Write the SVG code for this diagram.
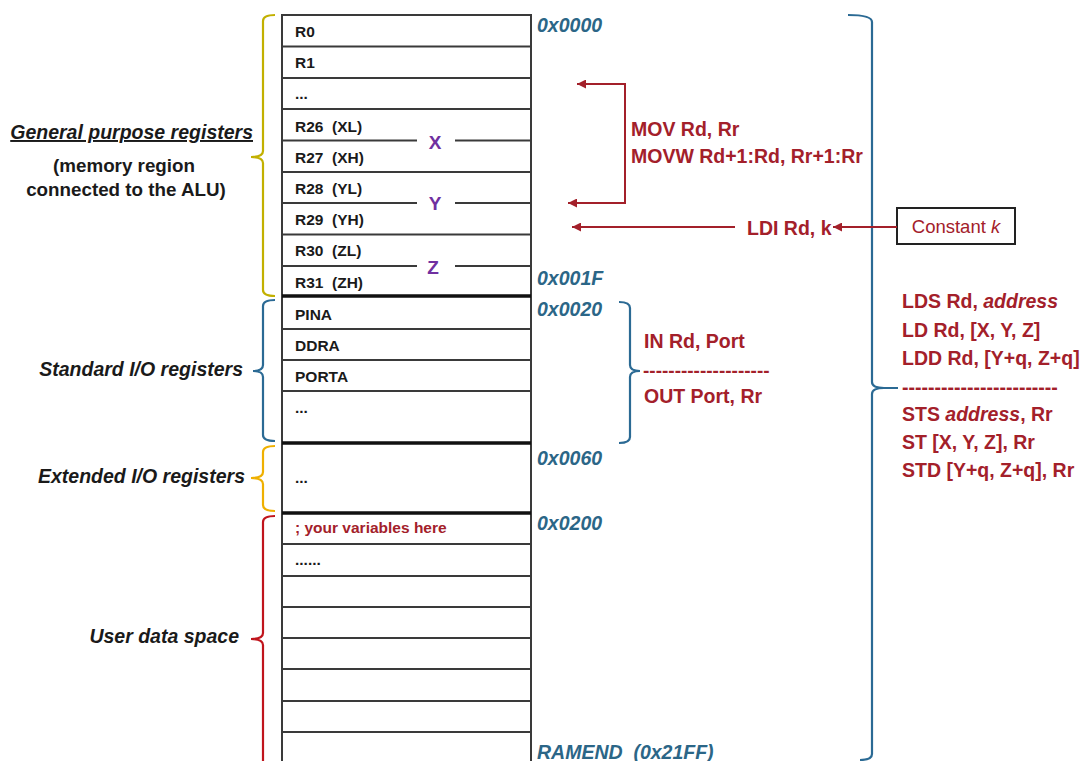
<svg xmlns="http://www.w3.org/2000/svg" width="1083" height="761" viewBox="0 0 1083 761">
<style>
text{font-family:"Liberation Sans",Arial,sans-serif;white-space:pre}
.reg{font-size:15.5px;font-weight:bold;fill:#1a1a1a}
.sec{font-size:19.5px;font-weight:bold;font-style:italic;fill:#1a1a1a}
.sub{font-size:18.8px;font-weight:bold;fill:#1a1a1a}
.addr{font-size:19.5px;font-weight:bold;font-style:italic;fill:#2b6687}
.ins{font-size:19.5px;font-weight:bold;fill:#a3202a}
.ptr{font-size:19px;font-weight:bold;fill:#7030a0}
.row{stroke:#3a3a3a;stroke-width:2;fill:none}
.thick{stroke:#111;stroke-width:3.5;fill:none}
.brace{fill:none;stroke-width:2.2;stroke-linejoin:round}
.conn{fill:none;stroke:#a3202a;stroke-width:2}
</style>
<defs>
<marker id="ah" viewBox="0 0 10 10" refX="10" refY="5" markerWidth="11" markerHeight="9" markerUnits="userSpaceOnUse" orient="auto-start-reverse">
<path d="M0,0 L10,5 L0,10 z" fill="#a3202a"/>
</marker>
</defs>
<rect width="1083" height="761" fill="#fff"/>

<g id="memory">
<line class="row" x1="282" y1="14" x2="282" y2="761"/>
<line class="row" x1="531" y1="14" x2="531" y2="761"/>
<line class="row" x1="281" y1="15" x2="532" y2="15"/>
<line class="row" x1="282" y1="46.5" x2="531" y2="46.5"/>
<line class="row" x1="282" y1="78" x2="531" y2="78"/>
<line class="row" x1="282" y1="109" x2="531" y2="109"/>
<line class="row" x1="282" y1="140.5" x2="417" y2="140.5"/>
<line class="row" x1="455" y1="140.5" x2="531" y2="140.5"/>
<line class="row" x1="282" y1="172" x2="531" y2="172"/>
<line class="row" x1="282" y1="203" x2="417" y2="203"/>
<line class="row" x1="455" y1="203" x2="531" y2="203"/>
<line class="row" x1="282" y1="234.5" x2="531" y2="234.5"/>
<line class="row" x1="282" y1="266" x2="417" y2="266"/>
<line class="row" x1="455" y1="266" x2="531" y2="266"/>
<line class="thick" x1="282" y1="296" x2="531" y2="296"/>
<line class="row" x1="282" y1="329" x2="531" y2="329"/>
<line class="row" x1="282" y1="360" x2="531" y2="360"/>
<line class="row" x1="282" y1="391" x2="531" y2="391"/>
<line class="thick" x1="282" y1="443" x2="531" y2="443"/>
<line class="thick" x1="282" y1="513" x2="531" y2="513"/>
<line class="row" x1="282" y1="544" x2="531" y2="544"/>
<line class="row" x1="282" y1="576" x2="531" y2="576"/>
<line class="row" x1="282" y1="607" x2="531" y2="607"/>
<line class="row" x1="282" y1="638" x2="531" y2="638"/>
<line class="row" x1="282" y1="669" x2="531" y2="669"/>
<line class="row" x1="282" y1="701" x2="531" y2="701"/>
<line class="row" x1="282" y1="732" x2="531" y2="732"/>
<text class="reg" x="295" y="37">R0</text>
<text class="reg" x="295" y="68">R1</text>
<text class="reg" x="295" y="99">...</text>
<text class="reg" x="295" y="132">R26  (XL)</text>
<text class="reg" x="295" y="163">R27  (XH)</text>
<text class="reg" x="295" y="194">R28  (YL)</text>
<text class="reg" x="295" y="225">R29  (YH)</text>
<text class="reg" x="295" y="256">R30  (ZL)</text>
<text class="reg" x="295" y="288">R31  (ZH)</text>
<text class="reg" x="295" y="320">PINA</text>
<text class="reg" x="295" y="351">DDRA</text>
<text class="reg" x="295" y="382">PORTA</text>
<text class="reg" x="295" y="413">...</text>
<text class="reg" x="295" y="483">...</text>
<text class="reg" x="295" y="533" style="fill:#a3202a">; your variables here</text>
<text class="reg" x="295" y="565">......</text>
<text class="ptr" x="435" y="149" text-anchor="middle">X</text>
<text class="ptr" x="435" y="210" text-anchor="middle">Y</text>
<text class="ptr" x="433" y="274" text-anchor="middle">Z</text>
</g>

<g id="addresses">
<text class="addr" x="537" y="32">0x0000</text>
<text class="addr" x="537" y="285">0x001F</text>
<text class="addr" x="537" y="316">0x0020</text>
<text class="addr" x="537" y="465">0x0060</text>
<text class="addr" x="537" y="530">0x0200</text>
<text class="addr" x="537" y="759">RAMEND  (0x21FF)</text>
</g>

<g id="gp-registers">
<path class="brace" stroke="#c2b000" d="M275,15 Q263,15 263,21 V151 Q263,157 251,157 M263,163 Q263,157 251,157 M263,163 V290 Q263,296 275,296"/>
<text class="sec" x="253" y="139" text-anchor="end" text-decoration="underline">General purpose registers</text>
<text class="sub" x="124" y="172" text-anchor="middle">(memory region</text>
<text class="sub" x="126" y="196" text-anchor="middle">connected to the ALU)</text>
</g>

<g id="std-io">
<path class="brace" stroke="#2b6a94" d="M275,300 Q263,300 263,306 V365 Q263,371 253,371 M263,377 Q263,371 253,371 M263,377 V435 Q263,441 275,441"/>
<text class="sec" x="243" y="376" text-anchor="end">Standard I/O registers</text>
</g>

<g id="ext-io">
<path class="brace" stroke="#efb000" d="M275,446 Q263,446 263,452 V472 Q263,478 251,478 M263,484 Q263,478 251,478 M263,484 V505 Q263,511 275,511"/>
<text class="sec" x="245" y="483" text-anchor="end">Extended I/O registers</text>
</g>

<g id="user-data">
<path class="brace" stroke="#c0141c" d="M275,516 Q263,516 263,522 V633 Q263,639 251,639 M263,645 Q263,639 251,639 M263,645 V761"/>
<text class="sec" x="239" y="643" text-anchor="end">User data space</text>
</g>

<g id="io-instructions">
<path class="brace" stroke="#2b6a94" d="M619,302 Q630,302 630,308 V365 Q630,371 640,371 M630,377 Q630,371 640,371 M630,377 V437 Q630,443 619,443"/>
<text class="ins" x="644" y="348">IN Rd, Port</text>
<text class="ins" x="643" y="377" style="font-size:19px">--------------------</text>
<text class="ins" x="644" y="403">OUT Port, Rr</text>
</g>

<g id="data-instructions">
<path class="brace" stroke="#2b6a94" d="M848,15 Q872,15 872,22 V382 Q872,388 884,388 H898 M884,388 Q872,388 872,394 V754 Q872,760 860,760"/>
<text class="ins" x="902" y="308">LDS Rd, <tspan font-style="italic">address</tspan></text>
<text class="ins" x="902" y="337">LD Rd, [X, Y, Z]</text>
<text class="ins" x="902" y="365">LDD Rd, [Y+q, Z+q]</text>
<text class="ins" x="902" y="394">------------------------</text>
<text class="ins" x="902" y="421">STS <tspan font-style="italic">address</tspan>, Rr</text>
<text class="ins" x="902" y="449">ST [X, Y, Z], Rr</text>
<text class="ins" x="902" y="477">STD [Y+q, Z+q], Rr</text>
</g>

<g id="mov">
<text class="ins" x="631" y="136">MOV Rd, Rr</text>
<text class="ins" x="631" y="163">MOVW Rd+1:Rd, Rr+1:Rr</text>
</g>

<g id="ldi">
<text class="ins" x="747" y="235">LDI Rd, k</text>
</g>

<g id="constant-k">
<rect x="897" y="208" width="118" height="36" fill="#fff" stroke="#222" stroke-width="2"/>
<text x="956" y="233" text-anchor="middle" style="font-size:18.5px;fill:#a3202a">Constant <tspan font-style="italic">k</tspan></text>
</g>

<g id="connectors">
<path class="conn" d="M577,84 H625 V203 H568" marker-start="url(#ah)" marker-end="url(#ah)"/>
<path class="conn" d="M735,227 H572" marker-end="url(#ah)"/>
<path class="conn" d="M897,227 H833" marker-end="url(#ah)"/>
</g>
</svg>
